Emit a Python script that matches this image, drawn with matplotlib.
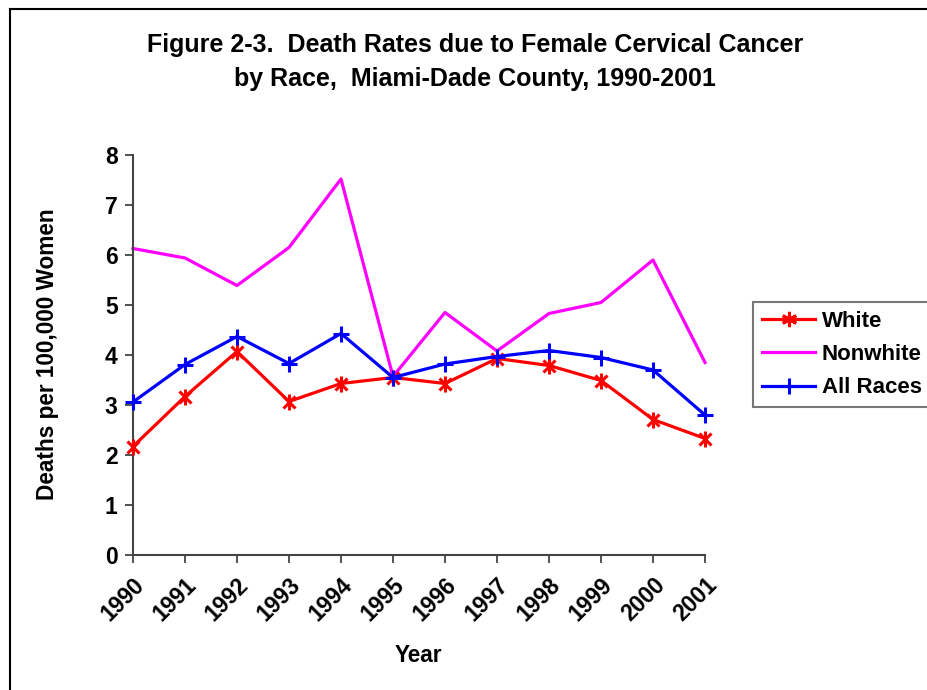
import matplotlib
matplotlib.use("Agg")
import matplotlib.pyplot as plt
from matplotlib.lines import Line2D

years = [1990, 1991, 1992, 1993, 1994, 1995, 1996, 1997, 1998, 1999, 2000, 2001]
white = [2.17, 3.17, 4.07, 3.07, 3.43, 3.55, 3.43, 3.93, 3.79, 3.49, 2.71, 2.33]
nonwhite = [6.13, 5.94, 5.39, 6.15, 7.52, 3.57, 4.85, 4.08, 4.83, 5.05, 5.90, 3.85]
all_races = [3.06, 3.81, 4.37, 3.83, 4.43, 3.55, 3.82, 3.97, 4.09, 3.95, 3.70, 2.80]

plt.rcParams['font.family'] = ['Liberation Sans', 'DejaVu Sans']
plt.rcParams['font.weight'] = 'bold'

W, H = 927, 690
fig = plt.figure(figsize=(W / 100, H / 100), dpi=100)
fig.patch.set_facecolor('white')

ax = fig.add_axes([133 / W, 1 - 555 / H, (705 - 133) / W, (555 - 155) / H])

# White: asterisk (x + vertical bar)
ax.plot(years, white, color='#ff0000', lw=2.3, marker='x', ms=9, mew=2.2, clip_on=False, zorder=3)
ax.plot(years, white, color='#ff0000', lw=0, marker='|', ms=11, mew=2.2, clip_on=False, zorder=3)
ax.plot(years, nonwhite, color='#ff00ff', lw=2.3, clip_on=False, zorder=2)
ax.plot(years, all_races, color='#0000ff', lw=2.3, marker='+', ms=12, mew=2.2, clip_on=False, zorder=4)

ax.set_xlim(1990, 2001)
ax.set_ylim(0, 8)
ax.set_xticks(years)
ax.set_xticklabels([str(y) for y in years], rotation=45, ha='right', va='top',
                   rotation_mode='anchor', fontsize=16.5, fontweight='bold')
ax.set_yticks(range(0, 9))
ax.set_yticklabels([str(v) for v in range(0, 9)], fontsize=16.5, fontweight='bold')
ax.tick_params(axis='both', direction='out', length=6, width=1.2, color='#333333', pad=5)
ax.tick_params(axis='x', pad=7)
for s in ['top', 'right']:
    ax.spines[s].set_visible(False)
for s in ['left', 'bottom']:
    ax.spines[s].set_color('#444444')
    ax.spines[s].set_linewidth(1.5)

fig.text(48 / W, 1 - 354 / H, 'Deaths per 100,000 Women', rotation=90, ha='center', va='center',
         fontsize=16.3, fontweight='bold')
fig.text(418 / W, 1 - 655 / H, 'Year', ha='center', va='center', fontsize=16.3, fontweight='bold')

fig.text(475 / W, 1 - 45 / H, 'Figure 2-3.  Death Rates due to Female Cervical Cancer',
         ha='center', va='center', fontsize=18, fontweight='bold')
fig.text(475 / W, 1 - 79 / H, 'by Race,  Miami-Dade County, 1990-2001',
         ha='center', va='center', fontsize=18, fontweight='bold')

# Legend
h_white = Line2D([], [], color='#ff0000', lw=2.3, marker=(6, 2, 0), ms=11, mew=2.2)
h_non = Line2D([], [], color='#ff00ff', lw=2.3)
h_all = Line2D([], [], color='#0000ff', lw=2.3, marker='+', ms=12, mew=2.2)
leg = fig.legend([h_white, h_non, h_all], ['White', 'Nonwhite', 'All Races'],
                 loc='upper left', bbox_to_anchor=(753 / W, 1 - 302 / H),
                 frameon=True, fancybox=False, fontsize=16, handlelength=2.4,
                 handletextpad=0.3, labelspacing=0.55, borderpad=0.4, borderaxespad=0)
leg.get_frame().set_edgecolor('#555555')
leg.get_frame().set_linewidth(1.5)
for t in leg.get_texts():
    t.set_fontweight('bold')

# Outer border (top and left)
fig.add_artist(Line2D([10 / W, 1], [1 - 9 / H, 1 - 9 / H], color='black', lw=1.5, transform=fig.transFigure))
fig.add_artist(Line2D([10 / W, 10 / W], [0, 1 - 9 / H], color='black', lw=1.5, transform=fig.transFigure))

fig.savefig('out.png', dpi=100)
